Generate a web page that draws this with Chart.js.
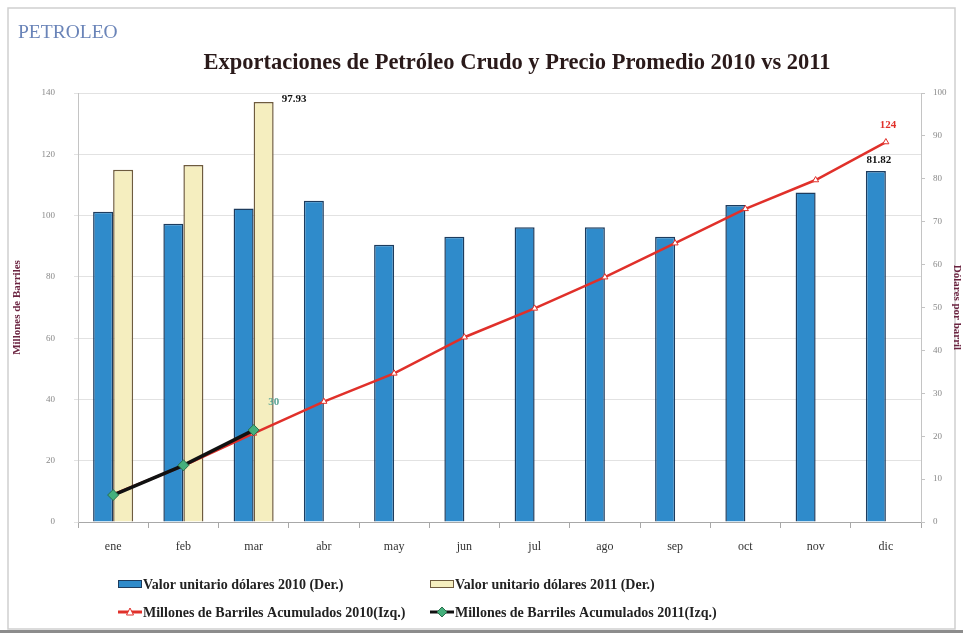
<!DOCTYPE html>
<html>
<head>
<meta charset="utf-8">
<title>Exportaciones de Petróleo Crudo</title>
<script src="https://cdn.jsdelivr.net/npm/chart.js@4.4.1/dist/chart.umd.min.js"></script>
<style>
  html, body { margin: 0; padding: 0; background: #fff; }
  #wrap { width: 963px; height: 636px; }
</style>
</head>
<body>
<div id="wrap"><canvas id="chart" width="963" height="636"></canvas></div>
<script>
// datos
const meses = ['ene', 'feb', 'mar', 'abr', 'may', 'jun', 'jul', 'ago', 'sep', 'oct', 'nov', 'dic'];
const precio2010 = [72.3, 69.5, 73.1, 74.9, 64.6, 66.5, 68.7, 68.7, 66.5, 73.9, 76.8, 81.82];
const precio2011 = [82.1, 83.2, 97.93, null, null, null, null, null, null, null, null, null];
const barriles2010 = [9.0, 18.3, 28.9, 39.3, 48.5, 60.3, 69.7, 79.9, 91.0, 102.2, 111.6, 124];
const barriles2011 = [8.8, 18.5, 30, null, null, null, null, null, null, null, null, null];
const ticksIzq = [0, 20, 40, 60, 80, 100, 120, 140];
const ticksDer = [0, 10, 20, 30, 40, 50, 60, 70, 80, 90, 100];

const SERIF = "'Liberation Serif', 'Times New Roman', serif";

// etiquetas de valor: [dataset, indice, color, dx, dy, align]
const etiquetas = [
  [1, 2, '#111', 18, -3, 'left'],
  [0, 11, '#111', 3, -11, 'center'],
  [2, 11, '#e0302a', 2, -17, 'center'],
  [3, 2, '#5aa596', 20, -28, 'center']
];

const leyenda = [
  { ds: 0, x: 118, y: 584 },
  { ds: 1, x: 430, y: 584 },
  { ds: 2, x: 118, y: 612 },
  { ds: 3, x: 430, y: 612 }
];

const decor = {
  id: 'decor',
  beforeDraw(chart) {
    const ctx = chart.ctx;
    ctx.save();
    ctx.fillStyle = '#fff';
    ctx.fillRect(0, 0, chart.width, chart.height);
    ctx.strokeStyle = '#cfcfcf';
    ctx.lineWidth = 1.5;
    ctx.strokeRect(8, 8, 947, 621);
    ctx.fillStyle = '#8c8c8c';
    ctx.fillRect(0, 630, chart.width, 3);
    ctx.restore();
  },
  afterDraw(chart) {
    const ctx = chart.ctx;
    ctx.save();
    // encabezado
    ctx.fillStyle = '#6a84b8';
    ctx.font = '19.5px ' + SERIF;
    ctx.textAlign = 'left';
    ctx.textBaseline = 'middle';
    ctx.fillText('PETROLEO', 18, 33);
    ctx.fillStyle = '#2a1a1a';
    ctx.font = 'bold 22.5px ' + SERIF;
    ctx.textAlign = 'center';
    ctx.fillText('Exportaciones de Petróleo Crudo y Precio Promedio 2010 vs 2011', 517, 63);

    // etiquetas de datos
    ctx.font = 'bold 11px ' + SERIF;
    etiquetas.forEach(([d, i, color, dx, dy, align]) => {
      const el = chart.getDatasetMeta(d).data[i];
      const ds = chart.data.datasets[d];
      ctx.fillStyle = color;
      ctx.textAlign = align;
      ctx.fillText(String(ds.data[i]), el.x + dx, el.y + dy);
    });

    // leyenda
    ctx.font = 'bold 14px ' + SERIF;
    ctx.textAlign = 'left';
    leyenda.forEach(item => {
      const ds = chart.data.datasets[item.ds];
      const x = item.x, y = item.y;
      if (ds.type === 'line') {
        ctx.strokeStyle = ds.borderColor;
        ctx.lineWidth = 3;
        ctx.beginPath();
        ctx.moveTo(x, y);
        ctx.lineTo(x + 24, y);
        ctx.stroke();
        ctx.fillStyle = ds.pointBackgroundColor;
        ctx.strokeStyle = ds.pointBorderColor;
        ctx.lineWidth = 1;
        ctx.beginPath();
        if (ds.pointStyle === 'rectRot') {
          ctx.moveTo(x + 12, y - 5); ctx.lineTo(x + 17, y);
          ctx.lineTo(x + 12, y + 5); ctx.lineTo(x + 7, y);
        } else {
          ctx.moveTo(x + 12, y - 4); ctx.lineTo(x + 15.5, y + 3); ctx.lineTo(x + 8.5, y + 3);
        }
        ctx.closePath();
        ctx.fill();
        ctx.stroke();
      } else {
        ctx.fillStyle = ds.backgroundColor;
        ctx.strokeStyle = ds.borderColor;
        ctx.lineWidth = 1;
        ctx.fillRect(x, y - 4, 24, 8);
        ctx.strokeRect(x + 0.5, y - 3.5, 23, 7);
      }
      ctx.fillStyle = '#222';
      ctx.fillText(ds.label, x + 25, y + 1);
    });
    ctx.restore();
  }
};

new Chart(document.getElementById('chart'), {
  data: {
    labels: meses,
    datasets: [
      {
        type: 'bar',
        label: 'Valor unitario dólares 2010 (Der.)',
        data: precio2010,
        yAxisID: 'y1',
        backgroundColor: '#2f8bcb',
        borderColor: '#1d3c5e',
        borderWidth: 1.5,
        barPercentage: 1,
        categoryPercentage: 0.57,
        order: 2
      },
      {
        type: 'bar',
        label: 'Valor unitario dólares 2011 (Der.)',
        data: precio2011,
        yAxisID: 'y1',
        backgroundColor: '#f5eebf',
        borderColor: '#6e5b3e',
        borderWidth: 1.5,
        barPercentage: 1,
        categoryPercentage: 0.57,
        order: 3
      },
      {
        type: 'line',
        label: 'Millones de Barriles Acumulados 2010(Izq.)',
        data: barriles2010,
        yAxisID: 'y',
        borderColor: '#e0302a',
        borderWidth: 2.5,
        pointStyle: 'triangle',
        pointRadius: 3.5,
        pointBackgroundColor: '#ffffff',
        pointBorderColor: '#e0302a',
        pointBorderWidth: 1,
        tension: 0,
        order: 1
      },
      {
        type: 'line',
        label: 'Millones de Barriles Acumulados 2011(Izq.)',
        data: barriles2011,
        yAxisID: 'y',
        borderColor: '#111111',
        borderWidth: 3.5,
        pointStyle: 'rectRot',
        pointRadius: 5.5,
        pointBackgroundColor: '#44b07c',
        pointBorderColor: '#2a6e4c',
        pointBorderWidth: 1,
        tension: 0,
        order: 0
      }
    ]
  },
  options: {
    responsive: false,
    animation: false,
    layout: { padding: { top: 93, left: 0, right: 0, bottom: 0 } },
    plugins: {
      legend: { display: false },
      title: { display: false },
      tooltip: { enabled: false }
    },
    scales: {
      x: {
        grid: { offset: true, drawOnChartArea: false, tickLength: 6, color: '#a8a8a8' },
        border: { color: '#a8a8a8' },
        ticks: { font: { family: SERIF, size: 12 }, color: '#333', padding: 12 },
        afterFit: s => { s.height = 114; }
      },
      y: {
        position: 'left',
        min: 0,
        max: 140,
        afterBuildTicks: s => { s.ticks = ticksIzq.map(v => ({ value: v })); },
        grid: { color: '#e2e2e2', tickLength: 4 },
        border: { color: '#c4c4c4' },
        ticks: { font: { family: SERIF, size: 9 }, color: '#888', padding: 19 },
        title: {
          display: true,
          text: 'Millones de Barriles',
          font: { family: SERIF, size: 11, weight: 'bold' },
          color: '#6b2340',
          padding: { top: 11, bottom: 0 }
        },
        afterFit: s => { s.width = 78; }
      },
      y1: {
        position: 'right',
        min: 0,
        max: 100,
        afterBuildTicks: s => { s.ticks = ticksDer.map(v => ({ value: v })); },
        grid: { drawOnChartArea: false, color: '#c4c4c4', tickLength: 4 },
        border: { color: '#c4c4c4' },
        ticks: { font: { family: SERIF, size: 9 }, color: '#888', padding: 8 },
        title: {
          display: true,
          text: 'Dólares por barril',
          font: { family: SERIF, size: 11, weight: 'bold' },
          color: '#6b2340',
          padding: { top: 0, bottom: 0 }
        },
        afterFit: s => { s.width = 42; }
      }
    }
  },
  plugins: [decor]
});
</script>
</body>
</html>
